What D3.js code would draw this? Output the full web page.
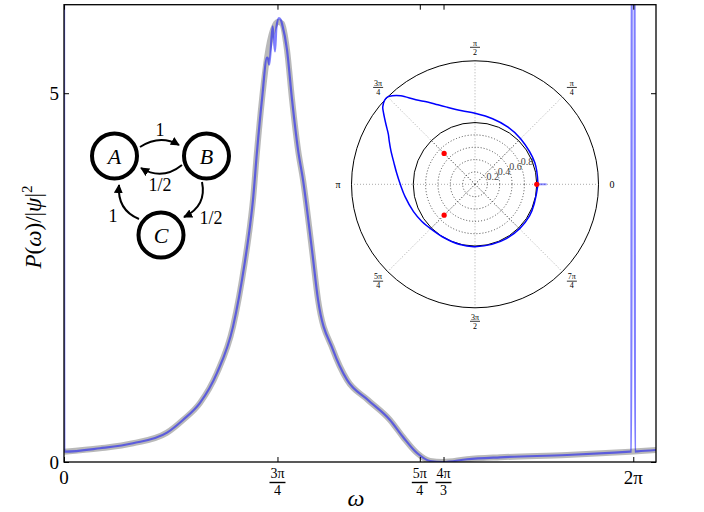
<!DOCTYPE html>
<html>
<head>
<meta charset="utf-8">
<script src="https://cdn.jsdelivr.net/npm/d3@7"></script>
<style>
body { margin: 0; background: #fff; }
text { font-family: "Liberation Serif", "DejaVu Serif", serif; }
</style>
</head>
<body>
<div id="chart"></div>
<script>
var svg_width = 704;
var svg_height = 512;
var margin = ({top: 4.7, right: 48, bottom: 50, left: 64});
var PI = Math.PI;

// smooth (gray) spectrum
var omegaGray = [0, 0.397, 0.762, 1.137, 1.313, 1.501, 1.689, 1.865, 1.998, 2.053, 2.086, 2.130, 2.185, 2.241,
    2.307, 2.362, 2.406, 2.461, 2.517, 2.583, 2.638, 2.737, 2.804, 2.969, 3.124, 3.355, 3.598, 3.742, 3.896,
    4.040, 4.183, 4.448, 4.812, 5.552, 6.247, 6.534];
var pGray = [0.140, 0.186, 0.254, 0.398, 0.570, 0.801, 1.208, 1.832, 2.727, 3.202, 3.555, 4.206, 4.912, 5.482,
    5.862, 5.970, 5.943, 5.590, 4.912, 4.233, 3.826, 2.877, 2.198, 1.520, 1.113, 0.841, 0.570, 0.339, 0.122,
    0.014, 0.000, 0.037, 0.064, 0.095, 0.140, 0.163];

// sampled (blue) spectrum, with the spikes at 0 and 2pi
var omegaBlue = [0, 0.004, 0.397, 0.762, 1.137, 1.313, 1.501, 1.689, 1.865, 1.998, 2.053, 2.086, 2.130, 2.185,
    2.241, 2.248, 2.266, 2.303, 2.329, 2.345, 2.373, 2.395, 2.406, 2.461, 2.517, 2.583, 2.638, 2.737, 2.804,
    2.969, 3.124, 3.355, 3.598, 3.742, 3.896, 4.040, 4.183, 4.448, 4.812, 5.552, 6.247, 6.262, 6.267, 6.297,
    6.302, 6.330, 6.534];
var pBlue = [8.0, 0.140, 0.186, 0.254, 0.398, 0.570, 0.801, 1.208, 1.832, 2.727, 3.202, 3.555, 4.206, 4.912,
    5.482, 5.480, 5.387, 5.906, 5.567, 5.900, 6.020, 5.990, 5.943, 5.590, 4.912, 4.233, 3.826, 2.877, 2.198,
    1.520, 1.113, 0.841, 0.570, 0.339, 0.122, 0.014, 0.000, 0.037, 0.064, 0.095, 0.140, 0.141, 8.0, 8.0,
    0.142, 0.145, 0.163];

var xTickValues = [0, 3 * PI / 4, 5 * PI / 4, 4 * PI / 3, 2 * PI];
var xTickLabels = [["0"], ["3π", "4"], ["5π", "4"], ["4π", "3"], ["2π"]];
var yTickValues = [0, 5];

// polar inset
var polarTheta = [0, 20, 45, 60, 75, 90, 100, 110, 115, 120, 125, 130, 133, 135, 137, 140, 142, 146, 150, 153,
    158, 165, 172, 180, 190, 204, 215, 228, 240, 255, 270, 300, 330, 360];
var polarR = [1.02, 1.03, 1.045, 1.07, 1.10, 1.15, 1.21, 1.33, 1.42, 1.54, 1.67, 1.87, 1.96, 2.0, 2.0, 1.95,
    1.88, 1.74, 1.62, 1.56, 1.47, 1.36, 1.28, 1.21, 1.15, 1.09, 1.05, 1.01, 1.0, 1.005, 1.01, 1.015, 1.02, 1.02];
var eigTheta = [0, 135, 225];
var eigR = [1.0, 0.707, 0.707];
var rGrid = [0.2, 0.4, 0.6, 0.8];
var angleGrid = [0, 45, 90, 135, 180, 225, 270, 315];
var angleLabels = [["0"], ["π", "4"], ["π", "2"], ["3π", "4"], ["π"], ["5π", "4"], ["3π", "2"], ["7π", "4"]];

// Markov chain diagram
var nodes = [{name: "A", x: 114.5, y: 156}, {name: "B", x: 206.5, y: 156}, {name: "C", x: 161, y: 235}];
var edgeLabels = ["1", "1/2", "1/2", "1"];

var gray = omegaGray.map((w, i) => ({w: w, p: pGray[i]}));
var blue = omegaBlue.map((w, i) => ({w: w, p: pBlue[i]}));

var x = d3.scaleLinear()
    .domain([0, 6.534])
    .range([margin.left, svg_width - margin.right]);
var y = d3.scaleLinear()
    .domain([0, 6.2])
    .range([svg_height - margin.bottom, margin.top]);

const svg = d3.select("#chart")
    .append("svg")
    .attr("width", svg_width)
    .attr("height", svg_height);

svg.append("clipPath").attr("id", "clip")
    .append("rect")
    .attr("x", x(0)).attr("y", y(6.2))
    .attr("width", x(6.534) - x(0)).attr("height", y(0) - y(6.2));

var line = d3.line()
    .x(d => x(d.w))
    .y(d => y(d.p))
    .curve(d3.curveMonotoneX);

var plot = svg.append("g").attr("clip-path", "url(#clip)");
plot.append("path")
    .datum(gray)
    .attr("d", line)
    .attr("fill", "none")
    .attr("stroke", "#808080")
    .attr("stroke-opacity", 0.55)
    .attr("stroke-width", 6)
    .attr("stroke-linejoin", "round");
plot.append("path")
    .datum(blue)
    .attr("d", line)
    .attr("fill", "none")
    .attr("stroke", "#0000ff")
    .attr("stroke-opacity", 0.5)
    .attr("stroke-width", 2.2);

// ticks, inward on all four sides
var xAxisB = g => g
    .attr("transform", `translate(0,${y(0)})`)
    .call(d3.axisBottom(x).tickValues(xTickValues).tickSizeInner(-5).tickSizeOuter(0).tickFormat(""))
    .call(g => g.selectAll(".domain").remove());
var xAxisT = g => g
    .attr("transform", `translate(0,${y(6.2)})`)
    .call(d3.axisTop(x).tickValues(xTickValues).tickSizeInner(-5).tickSizeOuter(0).tickFormat(""))
    .call(g => g.selectAll(".domain").remove());
var yAxisL = g => g
    .attr("transform", `translate(${x(0)},0)`)
    .call(d3.axisLeft(y).tickValues(yTickValues).tickSizeInner(-5).tickSizeOuter(0).tickFormat(""))
    .call(g => g.selectAll(".domain").remove());
var yAxisR = g => g
    .attr("transform", `translate(${x(6.534)},0)`)
    .call(d3.axisRight(y).tickValues(yTickValues).tickSizeInner(-5).tickSizeOuter(0).tickFormat(""))
    .call(g => g.selectAll(".domain").remove());
[xAxisB, xAxisT, yAxisL, yAxisR].forEach(a => svg.append("g").call(a).selectAll("line").attr("stroke", "#000"));

svg.append("rect")
    .attr("x", x(0)).attr("y", y(6.2))
    .attr("width", x(6.534) - x(0)).attr("height", y(0) - y(6.2))
    .attr("fill", "none").attr("stroke", "#000").attr("stroke-width", 1.3);

// x tick labels (plain or fraction)
xTickValues.forEach(function (v, i) {
    var lab = xTickLabels[i];
    var g = svg.append("g").attr("transform", `translate(${x(v)},0)`);
    if (lab.length == 1) {
        g.append("text").attr("y", 484).attr("text-anchor", "middle")
            .attr("font-size", "19px").text(lab[0]);
    } else {
        g.append("text").attr("y", 478).attr("text-anchor", "middle")
            .attr("font-size", "14px").text(lab[0]);
        g.append("line").attr("x1", -8).attr("x2", 8).attr("y1", 482.5).attr("y2", 482.5)
            .attr("stroke", "#000").attr("stroke-width", 1.4);
        g.append("text").attr("y", 495).attr("text-anchor", "middle")
            .attr("font-size", "14px").text(lab[1]);
    }
});
yTickValues.forEach(function (v) {
    svg.append("text").attr("x", 59).attr("y", y(v)).attr("dy", "0.35em")
        .attr("text-anchor", "end").attr("font-size", "19px").text(v);
});

// axis labels
svg.append("text").attr("x", 356).attr("y", 506).attr("text-anchor", "middle")
    .attr("font-size", "24px").attr("font-style", "italic").text("ω");
var ylab = svg.append("text")
    .attr("transform", "translate(41,227) rotate(-90)")
    .attr("text-anchor", "middle")
    .attr("font-size", "23px");
ylab.append("tspan").attr("font-style", "italic").text("P");
ylab.append("tspan").text("(");
ylab.append("tspan").attr("font-style", "italic").text("ω");
ylab.append("tspan").text(")/|");
ylab.append("tspan").attr("font-style", "italic").text("ψ");
ylab.append("tspan").text("|");
ylab.append("tspan").attr("font-size", "15px").attr("dy", "-0.6em").text("2");

// ---- polar inset ----
var cx = 475, cy = 184.3;
var r = d3.scaleLinear().domain([0, 2]).range([0, 123.5]);
var rad = d => d * PI / 180;
var polar = svg.append("g").attr("transform", `translate(${cx},${cy})`);

polar.append("circle").attr("r", r(2)).attr("fill", "#fff").attr("stroke", "none");
polar.selectAll(".spoke")
    .data(angleGrid)
    .join("line")
    .attr("x2", d => r(2) * Math.cos(rad(d)))
    .attr("y2", d => -r(2) * Math.sin(rad(d)))
    .attr("stroke", "#aaa").attr("stroke-width", 1).attr("stroke-dasharray", "1,2");
polar.selectAll(".diag")
    .data(angleGrid.filter(d => d % 90 != 0))
    .join("line")
    .attr("x2", d => r(1) * Math.cos(rad(d)))
    .attr("y2", d => -r(1) * Math.sin(rad(d)))
    .attr("stroke", "#222").attr("stroke-width", 0.8).attr("stroke-dasharray", "1,2");
polar.selectAll(".ring")
    .data(rGrid)
    .join("circle")
    .attr("r", d => r(d))
    .attr("fill", "none").attr("stroke", "#222").attr("stroke-width", 0.8).attr("stroke-dasharray", "1,2");
polar.append("circle").attr("r", r(1)).attr("fill", "none").attr("stroke", "#000").attr("stroke-width", 1);
polar.append("circle").attr("r", r(2)).attr("fill", "none").attr("stroke", "#000").attr("stroke-width", 1);

rGrid.forEach(function (v) {
    polar.append("text")
        .attr("x", r(v) * Math.cos(rad(22.5)))
        .attr("y", -r(v) * Math.sin(rad(22.5)))
        .attr("font-size", "10px").attr("fill", "#444").text(v);
});

polar.append("line")
    .attr("x1", r(1)).attr("x2", r(1.16))
    .attr("stroke", "#0000ff").attr("stroke-opacity", 0.45).attr("stroke-width", 2);

var radial = d3.lineRadial()
    .angle(d => PI / 2 - rad(d.t))
    .radius(d => r(d.r))
    .curve(d3.curveCatmullRom);
polar.append("path")
    .datum(polarTheta.map((t, i) => ({t: t, r: polarR[i]})))
    .attr("d", radial)
    .attr("fill", "none").attr("stroke", "#0000ff").attr("stroke-width", 1.5);

polar.selectAll(".eig")
    .data(eigTheta.map((t, i) => ({t: t, r: eigR[i]})))
    .join("circle")
    .attr("cx", d => r(d.r) * Math.cos(rad(d.t)))
    .attr("cy", d => -r(d.r) * Math.sin(rad(d.t)))
    .attr("r", 2.6)
    .attr("fill", "#ff0000");

angleGrid.forEach(function (a, i) {
    var lab = angleLabels[i];
    var lx = 137 * Math.cos(rad(a)), ly = -137 * Math.sin(rad(a));
    var g = polar.append("g").attr("transform", `translate(${lx},${ly})`);
    if (lab.length == 1) {
        g.append("text").attr("dy", "0.35em").attr("text-anchor", "middle")
            .attr("font-size", "10px").text(lab[0]);
    } else {
        g.append("text").attr("y", -1.8).attr("text-anchor", "middle").attr("font-size", "8px").text(lab[0]);
        g.append("line").attr("x1", -5).attr("x2", 5).attr("stroke", "#000").attr("stroke-width", 0.8);
        g.append("text").attr("y", 7.3).attr("text-anchor", "middle").attr("font-size", "8px").text(lab[1]);
    }
});

// ---- Markov chain diagram ----
var defs = svg.append("defs");
defs.append("marker")
    .attr("id", "head")
    .attr("viewBox", "0 0 10 10")
    .attr("refX", 9).attr("refY", 5)
    .attr("markerWidth", 9).attr("markerHeight", 9)
    .attr("markerUnits", "userSpaceOnUse")
    .attr("orient", "auto")
    .append("path").attr("d", "M0,0 L10,5 L0,10 z").attr("fill", "#000");

var edges = [
    "M140,147 Q160,134 179,145",
    "M182,165 Q162,181 141,168",
    "M202,182 Q207,206 184,217",
    "M139,219 Q117,210 119,185"
];
svg.selectAll(".edge")
    .data(edges)
    .join("path")
    .attr("d", d => d)
    .attr("fill", "none").attr("stroke", "#000").attr("stroke-width", 2)
    .attr("marker-end", "url(#head)");

var labelPos = [[160, 136], [160, 191], [211, 224], [113, 222]];
edgeLabels.forEach(function (t, i) {
    svg.append("text").attr("x", labelPos[i][0]).attr("y", labelPos[i][1])
        .attr("text-anchor", "middle").attr("font-size", "18px").text(t);
});

var node = svg.selectAll(".node")
    .data(nodes)
    .join("g")
    .attr("transform", d => `translate(${d.x},${d.y})`);
node.append("circle").attr("r", 22.5).attr("fill", "#fff").attr("stroke", "#000").attr("stroke-width", 4);
node.append("text").attr("dy", "0.35em").attr("text-anchor", "middle")
    .attr("font-size", "22px").attr("font-style", "italic").text(d => d.name);
</script>
</body>
</html>
